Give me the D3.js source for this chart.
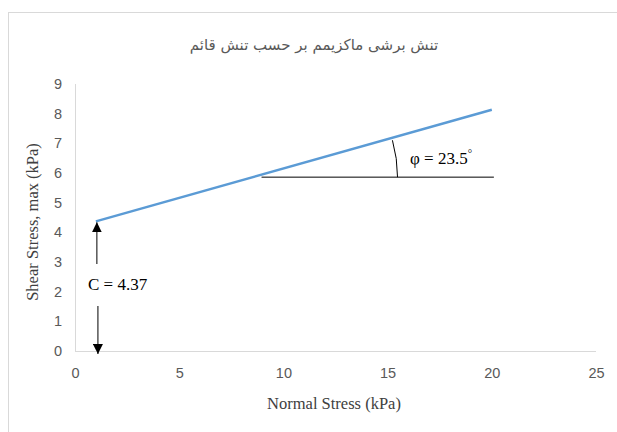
<!DOCTYPE html>
<meta charset="utf-8">
<style>
body { margin: 0; background: #fff; }
.axis path, .axis line { stroke: #d9d9d9; }
.axis text { font: 14.5px "Liberation Sans Narrow", "Liberation Sans", sans-serif; fill: #595959; }
</style>
<svg width="617" height="432"></svg>
<script src="https://d3js.org/d3.v7.min.js"></script>
<script>
// fitted Mohr-Coulomb envelope
var lineX = [1, 20],
  lineY = [4.37, 8.13];
var xTicks = [0, 5, 10, 15, 20, 25],
  yTicks = [0, 1, 2, 3, 4, 5, 6, 7, 8, 9];
var refLineX = [8.95, 20.1], refLineY = 5.86;
var cohesion = "C = 4.37", phiLabel = "φ = 23.5";

var svg = d3.select("svg");

svg.append("rect")
  .attr("x", 8.5).attr("y", 12.5)
  .attr("width", 640).attr("height", 440)
  .attr("fill", "none").attr("stroke", "#d9d9d9");

var x = d3.scaleLinear().domain([0, 25]).range([75, 596]);
var y = d3.scaleLinear().domain([0, 9]).range([351, 84]);

svg.append("g")
  .attr("class", "axis")
  .attr("transform", "translate(0,351)")
  .call(d3.axisBottom(x).tickValues(xTicks).tickSize(0).tickPadding(17))
  .call(function(g) { g.select(".domain").attr("d", "M75,0.5H596"); });

svg.append("g")
  .attr("class", "axis")
  .attr("transform", "translate(75,0)")
  .call(d3.axisLeft(y).tickValues(yTicks).tickSize(0).tickPadding(13))
  .call(function(g) { g.select(".domain").attr("d", "M0.5,351V84"); });

svg.append("text")
  .attr("x", 314).attr("y", 50)
  .attr("text-anchor", "middle")
  .style("font", "15px 'DejaVu Sans', sans-serif")
  .attr("fill", "#595959")
  .text("تنش برشی ماکزیمم بر حسب تنش قائم");

svg.append("text")
  .attr("x", 334).attr("y", 409)
  .attr("text-anchor", "middle")
  .style("font", "16.5px 'Liberation Serif', serif")
  .attr("fill", "#404040")
  .text("Normal Stress (kPa)");

svg.append("text")
  .attr("transform", "translate(38,222) rotate(-90)")
  .attr("text-anchor", "middle")
  .style("font", "16.5px 'Liberation Serif', serif")
  .attr("fill", "#404040")
  .text("Shear Stress, max (kPa)");

svg.append("defs").append("marker")
  .attr("id", "head")
  .attr("viewBox", "0 0 10 10")
  .attr("refX", 10).attr("refY", 5)
  .attr("markerWidth", 10).attr("markerHeight", 10)
  .attr("markerUnits", "userSpaceOnUse")
  .attr("orient", "auto")
  .append("path").attr("d", "M0,0L10,5L0,10Z").attr("fill", "#000");

// envelope
svg.append("path")
  .datum(d3.zip(lineX, lineY))
  .attr("fill", "none")
  .attr("stroke", "#5b9bd5")
  .attr("stroke-width", 2.5)
  .attr("d", d3.line().x(function(d) { return x(d[0]); }).y(function(d) { return y(d[1]); }));

// horizontal reference line
svg.append("line")
  .attr("x1", x(refLineX[0])).attr("x2", x(refLineX[1]))
  .attr("y1", y(refLineY)).attr("y2", y(refLineY))
  .attr("stroke", "#000").attr("stroke-width", 1);

// angle arc
var cx = x(refLineX[0]), cy = y(refLineY);
var ang = Math.atan((y(lineY[0]) - y(lineY[1])) / (x(lineX[1]) - x(lineX[0])));
var r = 136;
svg.append("path")
  .attr("d", "M" + (cx + r) + "," + cy + "A" + r + "," + r + " 0 0 0 " +
    (cx + r * Math.cos(ang)) + "," + (cy - r * Math.sin(ang)))
  .attr("fill", "none").attr("stroke", "#000").attr("stroke-width", 1);

var phi = svg.append("text")
  .attr("x", 410).attr("y", 164)
  .style("font", "17px 'Liberation Serif', serif")
  .attr("fill", "#000")
  .text(phiLabel);
phi.append("tspan").attr("dy", -7).style("font-size", "11px").text("°");

// cohesion arrows
svg.append("line")
  .attr("x1", x(1.05)).attr("x2", x(1.05))
  .attr("y1", 264).attr("y2", y(lineY[0]) + 1)
  .attr("stroke", "#000").attr("marker-end", "url(#head)");
svg.append("line")
  .attr("x1", x(1.1)).attr("x2", x(1.1))
  .attr("y1", 306).attr("y2", y(0) + 3)
  .attr("stroke", "#000").attr("marker-end", "url(#head)");

svg.append("text")
  .attr("x", 88).attr("y", 290)
  .style("font", "17px 'Liberation Serif', serif")
  .attr("fill", "#000")
  .text(cohesion);
</script>
